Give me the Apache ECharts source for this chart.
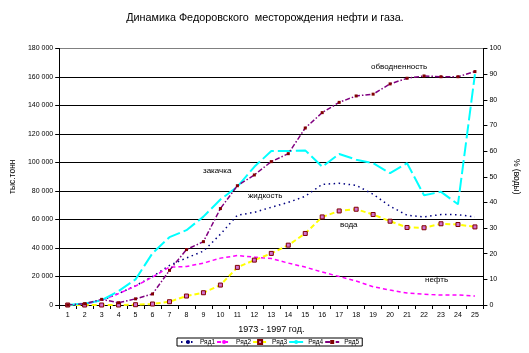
<!DOCTYPE html>
<html>
<head>
<meta charset="utf-8">
<script src="https://cdn.jsdelivr.net/npm/echarts@6/dist/echarts.min.js"></script>
<style>html,body{margin:0;padding:0;background:#fff;}#c{width:529px;height:353px;}</style>
</head>
<body>
<div id="c"></div>
<script>
var categories = ['1','2','3','4','5','6','7','8','9','10','11','12','13','14','15','16','17','18','19','20','21','22','23','24','25'];
// Ряд1 — жидкость, тыс. тонн
var liquid = [0, 600, 3300, 8000, 13500, 20000, 27800, 33000, 37800, 49700, 63000, 65000, 68600, 72000, 76300, 84700, 85400, 84000, 77700, 69300, 63000, 61800, 63500, 63400, 61800];
// Ряд2 — нефть, тыс. тонн
var oil = [0, 500, 3300, 8000, 13300, 19600, 26600, 27000, 29400, 32900, 34700, 33600, 32600, 29400, 26600, 23100, 20000, 16800, 12800, 10500, 8400, 7500, 7000, 7000, 6300];
// Ряд3 — вода, тыс. тонн
var water = [0, 0, 0, 0, 200, 700, 2300, 6300, 8600, 14000, 26400, 31500, 36200, 42000, 50200, 61800, 66000, 67200, 63500, 58800, 54400, 54200, 57000, 56500, 54800];
// Ряд4 — закачка, тыс. тонн
var injection = [0, 1000, 3300, 9800, 18000, 36400, 47600, 52500, 62000, 74000, 83000, 97000, 108000, 108000, 108500, 97000, 106000, 102000, 99500, 92500, 99500, 77000, 79400, 70700, 162000];
// Ряд5 — обводненность, %
var waterCut = [0, 0.5, 2.2, 0.9, 2.4, 4.3, 13.5, 21.6, 24.7, 37.6, 46.5, 50.7, 55.9, 59, 69, 75, 79, 81.5, 82.2, 86.2, 88.4, 89.3, 89, 89, 91];
var seriesNames = ['Ряд1', 'Ряд2', 'Ряд3', 'Ряд4', 'Ряд5'];

var FONT = '"Liberation Sans", Arial, sans-serif';
function fmt(v) { return String(v).replace(/\B(?=(\d{3})+(?!\d))/g, ' '); }

var chart = echarts.init(document.getElementById('c'), null, {renderer: 'canvas'});
var gridColors = ['#000','#000','#000','#000','#000','#000','#000','#000','#000','#808080'];
var option = {
  backgroundColor: '#fff',
  animation: false,
  textStyle: {fontFamily: FONT},
  title: {
    text: 'Динамика Федоровского  месторождения нефти и газа.',
    left: 260, top: 8, textAlign: 'center',
    textStyle: {fontSize: 10.8, fontWeight: 'normal', color: '#000', fontFamily: FONT}
  },
  grid: {left: 55.5, right: 42, top: 48.5, bottom: 48, containLabel: false},
  legend: {
    data: seriesNames,
    left: 177, top: 338,
    orient: 'horizontal',
    itemWidth: 14, itemHeight: 5, itemGap: 1,
    padding: [0.5, 3, 0.5, 3],
    borderColor: '#000', borderWidth: 1,
    textStyle: {fontSize: 6.5, color: '#000', fontFamily: FONT, lineHeight: 7}
  },
  xAxis: {
    type: 'category',
    data: categories,
    boundaryGap: true,
    name: '1973 - 1997 год.',
    nameLocation: 'middle',
    nameGap: 20,
    nameTextStyle: {fontSize: 9, color: '#000', fontFamily: FONT},
    axisLine: {lineStyle: {color: '#000', width: 1}},
    axisTick: {show: true, length: 4, lineStyle: {color: '#000'}},
    axisLabel: {fontSize: 7, color: '#000', margin: 7, interval: 0, fontFamily: FONT},
    splitLine: {show: false}
  },
  yAxis: [{
    type: 'value',
    min: 0, max: 180000, interval: 20000,
    name: 'тыс.тонн',
    nameLocation: 'middle',
    nameGap: 29,
    nameTextStyle: {fontSize: 8.5, color: '#000', fontFamily: FONT},
    axisLine: {show: true, lineStyle: {color: '#000', width: 1}},
    axisTick: {show: true, length: 4, lineStyle: {color: '#000'}},
    axisLabel: {fontSize: 7, color: '#000', margin: 6, formatter: fmt, fontFamily: FONT},
    splitLine: {show: true, lineStyle: {color: gridColors, width: 1}}
  }, {
    type: 'value',
    position: 'right',
    min: 0, max: 100, interval: 10,
    name: '% (воды)',
    nameLocation: 'middle',
    nameGap: 22,
    nameRotate: -90,
    nameTextStyle: {fontSize: 8.5, color: '#000', fontFamily: FONT},
    axisLine: {show: true, lineStyle: {color: '#000', width: 1}},
    axisTick: {show: true, length: 4, lineStyle: {color: '#000'}},
    axisLabel: {fontSize: 7, color: '#000', margin: 6, fontFamily: FONT},
    splitLine: {show: false}
  }],
  series: [{
    name: 'Ряд1', type: 'line', data: liquid, yAxisIndex: 0,
    showSymbol: false, symbol: 'none',
    lineStyle: {color: '#000080', width: 1.5, type: [1.5, 3.5]},
    itemStyle: {color: '#000080'}
  }, {
    name: 'Ряд2', type: 'line', data: oil, yAxisIndex: 0,
    showSymbol: false, symbol: 'none',
    lineStyle: {color: '#FF00FF', width: 1.5, type: [4, 3]},
    itemStyle: {color: '#FF00FF'}
  }, {
    name: 'Ряд3', type: 'line', data: water, yAxisIndex: 0,
    symbol: 'rect', symbolSize: 4, showSymbol: true,
    lineStyle: {color: '#FFFF00', width: 2, type: [5, 3]},
    itemStyle: {color: '#D070D0', borderColor: '#800000', borderWidth: 1}
  }, {
    name: 'Ряд4', type: 'line', data: injection, yAxisIndex: 0,
    showSymbol: false, symbol: 'none',
    lineStyle: {color: '#00FFFF', width: 2, type: [14, 4]},
    itemStyle: {color: '#00FFFF'}
  }, {
    name: 'Ряд5', type: 'line', data: waterCut, yAxisIndex: 1,
    symbol: 'rect', symbolSize: 3, showSymbol: true,
    lineStyle: {color: '#800080', width: 1.5, type: [5, 2, 1.5, 2]},
    itemStyle: {color: '#800000', borderColor: '#800000', borderWidth: 0}
  }],
  graphic: [
    {type: 'text', left: 371, top: 63, style: {text: 'обводненность', fontSize: 8, fill: '#000', fontFamily: FONT}},
    {type: 'text', left: 203, top: 167, style: {text: 'закачка', fontSize: 8, fill: '#000', fontFamily: FONT}},
    {type: 'text', left: 248, top: 192, style: {text: 'жидкость', fontSize: 8, fill: '#000', fontFamily: FONT}},
    {type: 'text', left: 340, top: 221, style: {text: 'вода', fontSize: 8, fill: '#000', fontFamily: FONT}},
    {type: 'text', left: 425, top: 276, style: {text: 'нефть', fontSize: 8, fill: '#000', fontFamily: FONT}}
  ]
};
chart.setOption(option);
</script>
</body>
</html>
